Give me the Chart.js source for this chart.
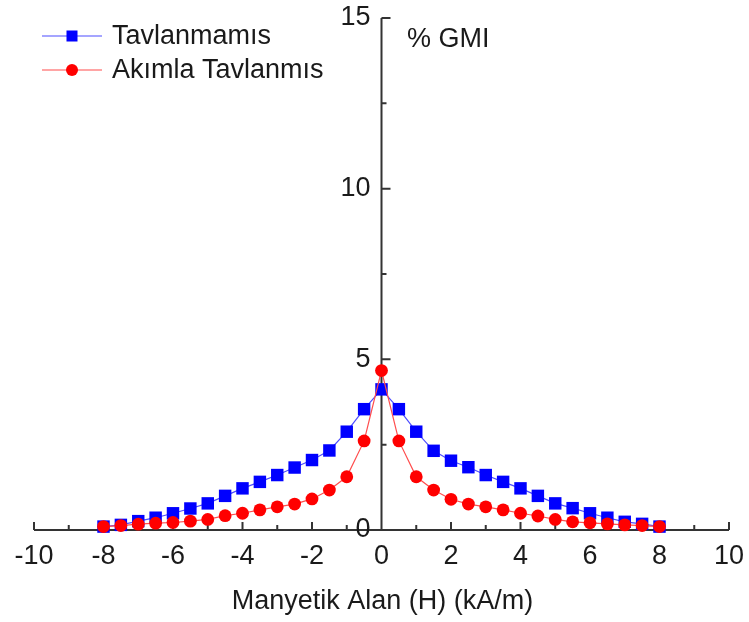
<!DOCTYPE html>
<html>
<head>
<meta charset="utf-8">
<script src="https://cdn.jsdelivr.net/npm/chart.js@4"></script>
<style>
  html, body { margin: 0; padding: 0; background: #fff; }
  #wrap { width: 749px; height: 622px; }
</style>
</head>
<body>
<div id="wrap"><canvas id="gmiChart"></canvas></div>
<script>
// field values (kA/m)
const hValues = [-8, -7.5, -7, -6.5, -6, -5.5, -5, -4.5, -4, -3.5, -3, -2.5, -2, -1.5, -1, -0.5, 0,
                 0.5, 1, 1.5, 2, 2.5, 3, 3.5, 4, 4.5, 5, 5.5, 6, 6.5, 7, 7.5, 8];
const tavlanmamis = [0.10, 0.15, 0.26, 0.36, 0.49, 0.63, 0.78, 1.00, 1.22, 1.41, 1.61, 1.83, 2.05, 2.33, 2.88, 3.54, 4.12,
                     3.54, 2.88, 2.32, 2.03, 1.84, 1.61, 1.41, 1.22, 1.00, 0.78, 0.64, 0.49, 0.36, 0.24, 0.18, 0.10];
const akimla = [0.10, 0.13, 0.17, 0.20, 0.22, 0.26, 0.31, 0.42, 0.49, 0.59, 0.68, 0.76, 0.91, 1.17, 1.56, 2.61, 4.67,
                2.61, 1.56, 1.17, 0.90, 0.76, 0.68, 0.59, 0.49, 0.41, 0.31, 0.24, 0.21, 0.18, 0.15, 0.13, 0.10];
const seriesNames = ["Tavlanmamıs", "Akımla Tavlanmıs"];
const xTickLabels = [-10, -8, -6, -4, -2, 0, 2, 4, 6, 8, 10];
const xMinorTicks = [-9, -7, -5, -3, -1, 1, 3, 5, 7, 9];
const yTickLabels = [0, 5, 10, 15];
const yMinorTicks = [2.5, 7.5, 12.5];

const FONT = "27px 'Liberation Sans', Arial, sans-serif";
const AXIS = "#333";
const TEXT = "#1a1a1a";

function toPoints(ys) {
    return hValues.map((h, i) => ({ x: h, y: ys[i] }));
}

const axesPlugin = {
    id: "crossAxes",
    beforeDatasetsDraw(chart) {
        const c = chart.ctx;
        const xs = chart.scales.x, ys = chart.scales.y;
        const x0 = xs.getPixelForValue(0);
        const yb = ys.getPixelForValue(0);
        const yt = ys.getPixelForValue(15);
        c.save();
        c.strokeStyle = AXIS;
        c.lineWidth = 2;
        c.beginPath();
        // x axis
        c.moveTo(xs.getPixelForValue(-10), yb);
        c.lineTo(xs.getPixelForValue(10), yb);
        xTickLabels.forEach(v => {
            const px = xs.getPixelForValue(v);
            c.moveTo(px, yb);
            c.lineTo(px, yb - 8);
        });
        xMinorTicks.forEach(v => {
            const px = xs.getPixelForValue(v);
            c.moveTo(px, yb);
            c.lineTo(px, yb - 5);
        });
        // y axis through zero
        c.moveTo(x0, yb);
        c.lineTo(x0, yt);
        yTickLabels.forEach(v => {
            const py = ys.getPixelForValue(v);
            c.moveTo(x0, py);
            c.lineTo(x0 + 9, py);
        });
        yMinorTicks.forEach(v => {
            const py = ys.getPixelForValue(v);
            c.moveTo(x0, py);
            c.lineTo(x0 + 5, py);
        });
        c.stroke();

        c.fillStyle = TEXT;
        c.font = FONT;
        c.textAlign = "center";
        c.textBaseline = "top";
        xTickLabels.forEach(v => {
            c.fillText(String(v), xs.getPixelForValue(v), yb + 13);
        });
        c.textAlign = "right";
        c.textBaseline = "middle";
        yTickLabels.forEach(v => {
            c.fillText(String(v), x0 - 11, ys.getPixelForValue(v));
        });
        c.textAlign = "center";
        c.textBaseline = "alphabetic";
        c.fillText("Manyetik Alan (H) (kA/m)", (xs.getPixelForValue(-10) + xs.getPixelForValue(10)) / 2 + 1, 609);
        c.textAlign = "left";
        c.fillText("% GMI", 407, 47);
        c.restore();
    },
    afterDraw(chart) {
        const c = chart.ctx;
        c.save();
        chart.data.datasets.slice().sort((a, b) => a.legendRow - b.legendRow).forEach(ds => {
            const y = ds.legendRow === 0 ? 36 : 70;
            c.strokeStyle = ds.borderColor;
            c.lineWidth = 1.2;
            c.beginPath();
            c.moveTo(42, y);
            c.lineTo(102, y);
            c.stroke();
            c.fillStyle = ds.pointBackgroundColor;
            if (ds.pointStyle === "rect") {
                c.fillRect(66.5, y - 5.5, 11, 11);
            } else {
                c.beginPath();
                c.arc(72, y, 6, 0, Math.PI * 2);
                c.fill();
            }
            c.fillStyle = TEXT;
            c.font = FONT;
            c.textBaseline = "middle";
            c.fillText(ds.label, 112, y + 1);
        });
        c.restore();
    }
};

const chart = new Chart(document.getElementById("gmiChart"), {
    type: "line",
    data: {
        datasets: [
            {
                label: seriesNames[0],
                legendRow: 0,
                data: toPoints(tavlanmamis),
                borderColor: "#4d4dff",
                borderWidth: 1.2,
                pointStyle: "rect",
                pointRadius: 8.8,
                pointBackgroundColor: "#0000ff",
                pointBorderColor: "#0000ff",
                pointBorderWidth: 0,
                order: 1
            },
            {
                label: seriesNames[1],
                legendRow: 1,
                data: toPoints(akimla),
                borderColor: "#ff4d4d",
                borderWidth: 1.2,
                pointStyle: "circle",
                pointRadius: 6.4,
                pointBackgroundColor: "#ff0000",
                pointBorderColor: "#ff0000",
                pointBorderWidth: 0,
                order: 0
            }
        ]
    },
    options: {
        responsive: true,
        maintainAspectRatio: false,
        animation: false,
        events: [],
        layout: { padding: { left: 34, right: 20, top: 18, bottom: 92 } },
        scales: {
            x: { type: "linear", min: -10, max: 10, display: false },
            y: { type: "linear", min: 0, max: 15, display: false }
        },
        plugins: {
            legend: { display: false },
            tooltip: { enabled: false }
        },
        elements: { line: { tension: 0 } },
        clip: false
    },
    plugins: [axesPlugin]
});
</script>
</body>
</html>
